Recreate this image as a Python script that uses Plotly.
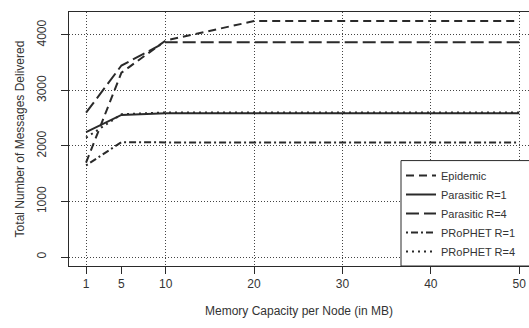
import plotly.graph_objects as go

mem_mb = [1, 5, 10, 20, 30, 40, 50]
epidemic = [1700, 3320, 3900, 4250, 4250, 4250, 4250]
parasitic_r1 = [2250, 2560, 2590, 2590, 2590, 2590, 2590]
parasitic_r4 = [2600, 3450, 3870, 3870, 3870, 3870, 3870]
prophet_r1 = [1650, 2070, 2065, 2065, 2065, 2065, 2065]
prophet_r4 = [2150, 2570, 2605, 2605, 2605, 2605, 2605]

x_ticks = [1, 5, 10, 20, 30, 40, 50]
x_grid = [1, 10, 20, 30, 40, 50]
y_ticks = [0, 1000, 2000, 3000, 4000]

ink = "#2a2a2a"
series = [
    ("Epidemic", epidemic, "8px,5px"),
    ("Parasitic R=1", parasitic_r1, "solid"),
    ("Parasitic R=4", parasitic_r4, "13px,5px"),
    ("PRoPHET R=1", prophet_r1, "2px,3px,7px,3px"),
    ("PRoPHET R=4", prophet_r4, "2px,4px"),
]

fig = go.Figure()
for name, ys, dash in series:
    fig.add_trace(go.Scatter(x=mem_mb, y=ys, mode="lines", name=name,
                             line=dict(color=ink, width=2, dash=dash)))

legend_left = (401 - 69) / 460
legend_top = 0.415

# legend frame (open on the right, as in the cropped original)
fig.add_shape(type="rect", xref="paper", yref="paper",
              x0=legend_left, x1=1.05, y0=0, y1=legend_top,
              line=dict(color=ink, width=1), fillcolor="white", layer="above")

font = "Liberation Sans, Arial, sans-serif"
fig.update_layout(
    width=529, height=328,
    margin=dict(l=69, r=0, t=12, b=62, autoexpand=False),
    paper_bgcolor="white", plot_bgcolor="white",
    font=dict(family=font, size=12, color="#333"),
    xaxis=dict(range=[-0.93, 51.1], tickvals=x_ticks, ticktext=[str(v) for v in x_ticks],
               ticks="outside", ticklen=7, tickcolor=ink, showgrid=False,
               showline=True, linecolor=ink, linewidth=1, mirror=True, zeroline=False,
               minor=dict(tickvals=x_grid, showgrid=True, gridcolor="#444", griddash="1px,2px", gridwidth=1, ticks=""),
               title=dict(text="Memory Capacity per Node (in MB)", standoff=16, font=dict(size=12))),
    yaxis=dict(range=[-162, 4414], tickvals=y_ticks, tickangle=-90,
               ticks="outside", ticklen=7, tickcolor=ink, ticklabelstandoff=10,
               showgrid=True, gridcolor="#444", griddash="1px,2px", gridwidth=1,
               showline=True, linecolor=ink, linewidth=1, mirror=False, zeroline=False,
               title=dict(text="Total Number of Messages Delivered", standoff=8, font=dict(size=12))),
    legend=dict(x=legend_left, xanchor="left", y=0, yanchor="bottom",
                bgcolor="rgba(0,0,0,0)", borderwidth=0,
                font=dict(size=11, color="#333"), tracegroupgap=0),
    showlegend=True,
)

fig.write_html("out.html", config={"displayModeBar": False},
               post_script="document.body.style.margin='0px';document.body.style.overflow='hidden';")
